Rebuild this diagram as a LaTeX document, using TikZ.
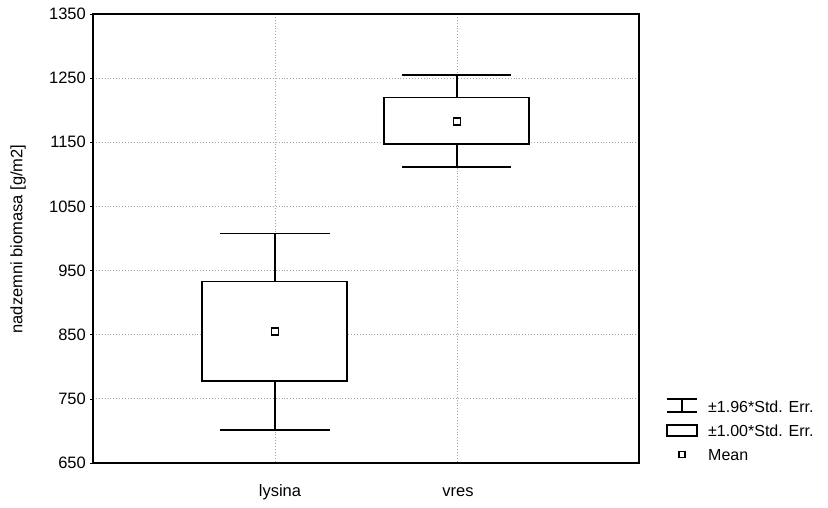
\documentclass[tikz,border=0pt]{standalone}
\usepackage{fontspec}
\setmainfont{Liberation Sans}
\begin{document}
\begin{tikzpicture}[x=1pt,y=-1pt,
  frame/.style={line width=1.6pt,black},
  gridl/.style={gray!70,dotted,line width=0.9pt},
  boxl/.style={line width=1.4pt,black},
  meanmk/.style={line width=1.3pt,black},
  ticklab/.style={anchor=east,inner sep=0pt,font=\fontsize{16.5}{16}\selectfont},
  catlab/.style={inner sep=0pt,font=\fontsize{16.5}{16}\selectfont},
  leglab/.style={anchor=west,inner sep=0pt,font=\fontsize{16}{16}\selectfont}]
\useasboundingbox (0,0) rectangle (828,508);
% grid
\foreach \yy in {78.1,142.3,206.4,270.6,334.7,398.9}
  \draw[gridl] (93,\yy) -- (639,\yy);
\foreach \xx in {275,457}
  \draw[gridl] (\xx,14) -- (\xx,463);
% tick labels
\foreach \yy/\lab in {14/1350,78.1/1250,142.3/1150,206.4/1050,270.6/950,334.7/850,398.9/750,463/650}{
  \node[ticklab] at (86,\yy) {\lab};
  \draw[line width=0.8pt] (90,\yy) -- (93,\yy);
}
% axis label
\node[catlab,rotate=90] (ylab) at (18,239) {nadzemni biomasa [g/m2]};
\node[catlab] (lys) at (280,492) {lysina};
\node[catlab] (vre) at (458,492) {vres};
% lysina
\draw[boxl] (275,233.5) -- (275,281.5);
\draw[boxl] (275,381) -- (275,430);
\draw[boxl] (220,233.5) -- (330,233.5);
\draw[boxl] (220,430) -- (330,430);
\draw[boxl,fill=white] (202,281.5) rectangle (347,381);
\draw[meanmk] (271.5,328) rectangle (278.5,335);
% vres
\draw[boxl] (457,75) -- (457,97.5);
\draw[boxl] (457,144) -- (457,167);
\draw[boxl] (402,75) -- (511,75);
\draw[boxl] (402,167) -- (511,167);
\draw[boxl,fill=white] (384,97.5) rectangle (529,144);
\draw[meanmk] (453.5,118) rectangle (460.5,125);
% frame
\draw[frame] (93,14) rectangle (639,463);
% legend
\draw[line width=1.2pt] (667,399) -- (697,399);
\draw[line width=1.2pt] (667,412) -- (697,412);
\draw[line width=1.2pt] (682,399) -- (682,412);
\node[leglab] (l1) at (708,407) {±1.96*Std. Err.};
\draw[line width=1.2pt] (667,425) rectangle (697,436);
\node[leglab] (l2) at (708,431) {±1.00*Std. Err.};
\draw[line width=1.1pt] (679,451.5) rectangle (685,457.5);
\node[leglab] (l3) at (708,455) {Mean};
\end{tikzpicture}
\end{document}
